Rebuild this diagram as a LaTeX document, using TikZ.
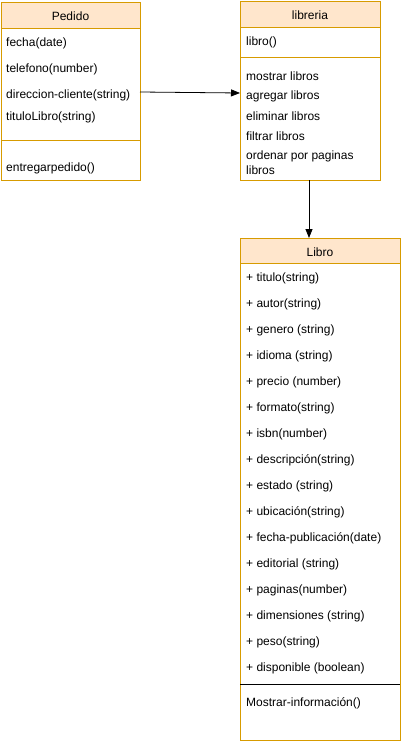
\documentclass[tikz,border=0pt]{standalone}
\usepackage{fontspec}
\setmainfont{Liberation Sans}
\usetikzlibrary{arrows.meta}
\definecolor{bord}{HTML}{D79B00}
\definecolor{head}{HTML}{FFE6CC}
\tikzset{
  box/.style={draw=bord, fill=white, line width=0.8pt},
  hdr/.style={draw=bord, fill=head, line width=0.8pt},
  sep/.style={draw=bord, line width=0.8pt},
  item/.style={anchor=west, inner sep=0pt, font=\fontsize{12}{14}\selectfont},
  ttl/.style={inner sep=0pt, font=\fontsize{12}{14}\selectfont},
  conn/.style={draw=black, line width=0.8pt, -{Triangle[length=9pt,width=7pt,fill=black]}}
}
\begin{document}
\begin{tikzpicture}[x=1pt,y=-1pt]
\useasboundingbox (0,0) rectangle (401,741);
% Pedido
\draw[box] (1,2) rectangle (140,180);
\draw[hdr] (1,2) rectangle (140,28);
\node[ttl] (pedT) at (70.5,16) {Pedido};
\draw[sep] (1,140) -- (140,140);
\node[item] (p1) at (6,43) {fecha(date)};
\node[item] (p2) at (6,69) {telefono(number)};
\node[item] (p3) at (6,95) {direccion-cliente(string)};
\node[item] (p4) at (6,117) {tituloLibro(string)};
\node[item] (p5) at (6,168) {entregarpedido()};
\coordinate (pedR) at (140,92);
% libreria
\draw[box] (240,1) rectangle (380,180);
\draw[hdr] (240,1) rectangle (380,27);
\node[ttl] (libT) at (310,15) {libreria};
\draw[sep] (240,57) -- (380,57);
\node[item] (l1) at (246,42) {libro()};
\node[item] (l2) at (246,76) {mostrar libros};
\node[item] (l3) at (246,96) {agregar libros};
\node[item] (l4) at (246,116) {eliminar libros};
\node[item] (l5) at (246,136) {filtrar libros};
\node[item] (l6) at (246,156) {ordenar por paginas};
\node[item] (l7) at (246,170) {libros};
\coordinate (libL) at (240,93);
\coordinate (libB) at (309,180);
% Libro
\draw[box] (240,238) rectangle (400,740);
\draw[hdr] (240,238) rectangle (400,263);
\node[ttl] (broT) at (320,252) {Libro};
\draw[line width=0.8pt] (240,684) -- (400,684);
\foreach \t [count=\i from 0] in {+ titulo(string),+ autor(string),+ genero (string),+ idioma (string),+ precio (number),+ formato(string),+ isbn(number),+ descripción(string),+ estado (string),+ ubicación(string),+ fecha-publicación(date),+ editorial (string),+ paginas(number),+ dimensiones (string),+ peso(string),+ disponible (boolean)}
  \node[item] (b\i) at (246,278+26*\i) {\t};
\node[item] (bm) at (246,703) {Mostrar-información()};
\coordinate (broTop) at (309,238);
% connectors
\draw[conn] (pedR) -- (libL);
\draw[conn] (libB) -- (broTop);
\end{tikzpicture}
\end{document}
